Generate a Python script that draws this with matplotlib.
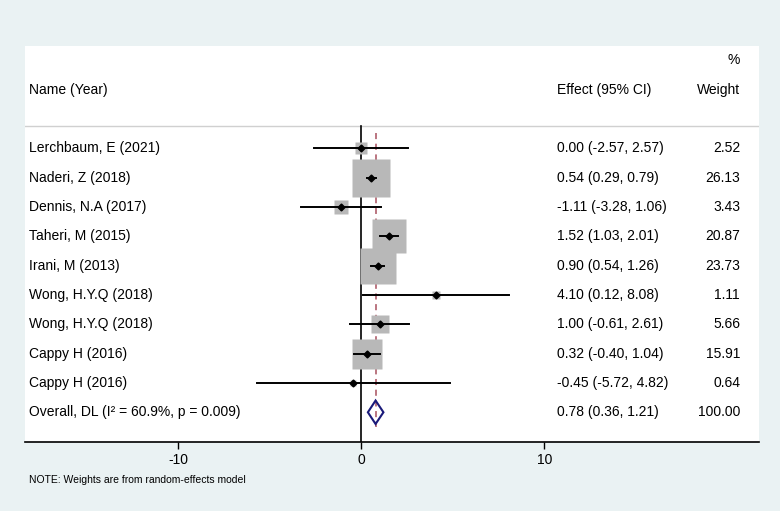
import numpy as np
import matplotlib.pyplot as plt
from matplotlib import transforms

plt.rcParams['font.family'] = ['Liberation Sans', 'DejaVu Sans']

# Données des études
names = ["Lerchbaum, E (2021)", "Naderi, Z (2018)", "Dennis, N.A (2017)",
         "Taheri, M (2015)", "Irani, M (2013)", "Wong, H.Y.Q (2018)",
         "Wong, H.Y.Q (2018)", "Cappy H (2016)", "Cappy H (2016)"]
effect = [0.00, 0.54, -1.11, 1.52, 0.90, 4.10, 1.00, 0.32, -0.45]
lower = [-2.57, 0.29, -3.28, 1.03, 0.54, 0.12, -0.61, -0.40, -5.72]
upper = [2.57, 0.79, 1.06, 2.01, 1.26, 8.08, 2.61, 1.04, 4.82]
weight = [2.52, 26.13, 3.43, 20.87, 23.73, 1.11, 5.66, 15.91, 0.64]

overall_label = "Overall, DL (I\u00b2 = 60.9%, p = 0.009)"
overall = (0.78, 0.36, 1.21)
xticks = [-10, 0, 10]

bg = "#EAF2F3"
fig = plt.figure(figsize=(7.8, 5.11), dpi=100, facecolor=bg)
W, H = 780, 511
left, right, top, bottom = 25, 759, 46, 442
ax = fig.add_axes([left / W, 1 - bottom / H, (right - left) / W, (bottom - top) / H])
ax.set_facecolor("white")

px_unit = 18.3
x0 = 361.3
ax.set_xlim((left - x0) / px_unit, (right - x0) / px_unit)
row_px = 29.33
row0 = 148.3
ax.set_ylim(-(bottom - row0) / row_px, (row0 - top) / row_px)

n = len(names)
ys = -np.arange(n)
y_over = -n

# Séparateur d'en-tête et ligne du zéro
sep_y = (row0 - 126) / row_px
ax.axhline(sep_y, color="#D0D0D0", lw=1)
ax.plot([0, 0], [ax.get_ylim()[0], sep_y], color="black", lw=1.2)
ax.plot([overall[0]] * 2, [(row0 - 133) / row_px, -(427 - row0) / row_px],
        color="#A8505E", lw=1.1, ls=(0, (4, 3)))

# Boîtes, IC et estimations
for y, e, lo, hi, w in zip(ys, effect, lower, upper, weight):
    ax.plot(e, y, marker="s", ms=5.26 * np.sqrt(w), color="#B8B8B8",
            mec="none", zorder=2)
    ax.plot([lo, hi], [y, y], color="black", lw=1.4, zorder=3)
    ax.plot(e, y, marker="D", ms=3.5, color="black", zorder=4)

# Losange global
m, lo, hi = overall
h = 0.4
ax.fill([lo, m, hi, m, lo], [y_over, y_over + h, y_over, y_over - h, y_over],
        facecolor="none", edgecolor="#1A1A7A", lw=1.5, zorder=4)

# Colonnes de texte
tr = transforms.blended_transform_factory(ax.transAxes, ax.transData)
xn = (29 - left) / (right - left)
xe = (557 - left) / (right - left)
xw = (740 - left) / (right - left)
fs = 10
ax.text(xn, 2, "Name (Year)", transform=tr, va="center", fontsize=fs)
ax.text(xe, 2, "Effect (95% CI)", transform=tr, va="center", fontsize=fs)
ax.text(xw, 2, "Weight", transform=tr, va="center", ha="right", fontsize=fs)
ax.text(xw, 3, "%", transform=tr, va="center", ha="right", fontsize=fs)

for y, nm, e, lo_, hi_, w in zip(ys, names, effect, lower, upper, weight):
    ax.text(xn, y, nm, transform=tr, va="center", fontsize=fs)
    ax.text(xe, y, f"{e:.2f} ({lo_:.2f}, {hi_:.2f})", transform=tr, va="center", fontsize=fs)
    ax.text(xw, y, f"{w:.2f}", transform=tr, va="center", ha="right", fontsize=fs)

ax.text(xn, y_over, overall_label, transform=tr, va="center", fontsize=fs)
ax.text(xe, y_over, f"{m:.2f} ({lo:.2f}, {hi:.2f})", transform=tr, va="center", fontsize=fs)
ax.text(xw, y_over, "100.00", transform=tr, va="center", ha="right", fontsize=fs)

# Axes
for s in ["top", "left", "right"]:
    ax.spines[s].set_visible(False)
ax.spines["bottom"].set_linewidth(1.2)
ax.set_yticks([])
ax.set_xticks(xticks)
ax.set_xticklabels([str(t) for t in xticks])
ax.tick_params(axis="x", length=5, width=1, labelsize=fs, pad=3)

fig.text(29 / W, 1 - 480 / H, "NOTE: Weights are from random-effects model",
         fontsize=7.5, va="center")

fig.savefig("out.png", dpi=100, facecolor=bg)
